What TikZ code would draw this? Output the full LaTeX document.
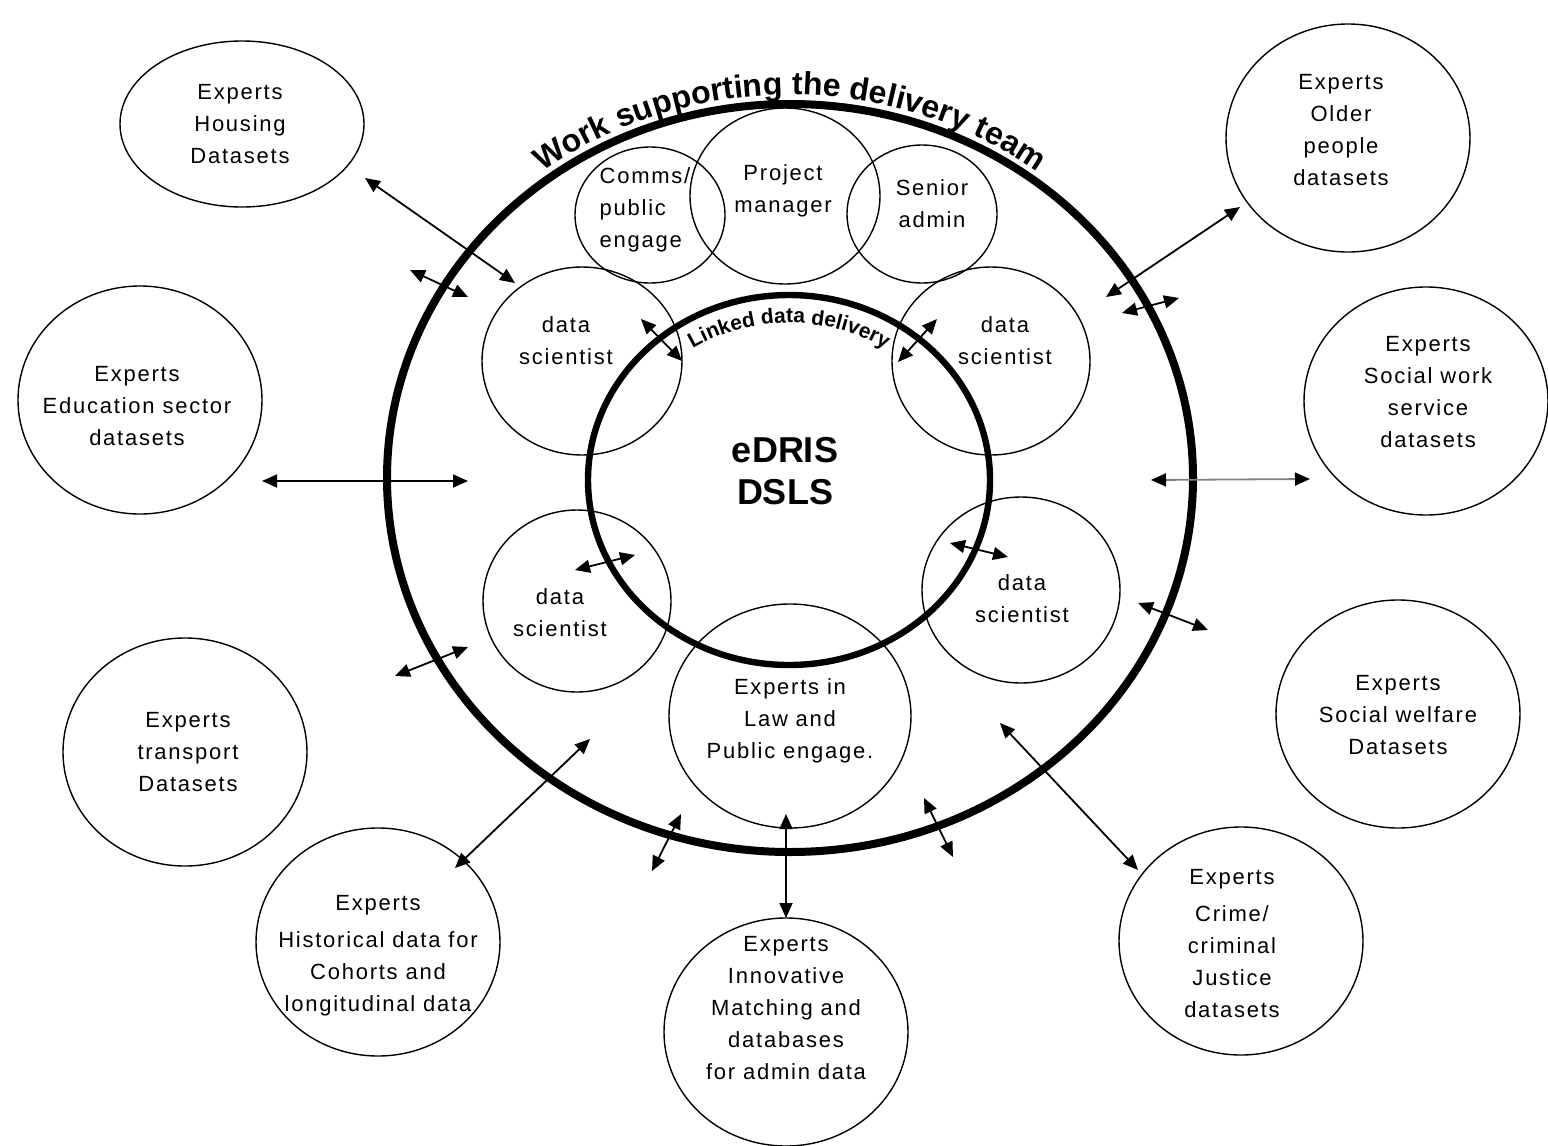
\documentclass[tikz,border=0pt]{standalone}
\usepackage{fontspec}
\setmainfont{Liberation Sans}
\newfontfamily\widefont[LetterSpace=8]{Liberation Sans}
\usetikzlibrary{shapes.geometric, arrows.meta, decorations.text, positioning}

\begin{document}
\begin{tikzpicture}[x=0.5pt, y=0.5pt,
  ring/.style={ellipse, draw, inner sep=0pt},
  expert/.style={ellipse, draw, line width=0.7pt, inner sep=0pt, minimum width=122pt, minimum height=114pt},
  member/.style={ellipse, draw, line width=0.7pt, inner sep=0pt},
  txt/.style={font=\widefont\fontsize{11}{16}\selectfont, align=center, inner sep=0pt},
  link/.style={line width=0.9pt, >={Triangle[length=7.5pt,width=6.5pt]}, <->}]

  \useasboundingbox (0,0) rectangle (1548,-1146);

  \node[expert, minimum height=83pt] (housing) at (242,-124) {};
  \node[expert] (education) at (140,-400) {};
  \node[expert] (transport) at (185,-752) {};
  \node[expert] (historical) at (378,-942) {};
  \node[expert] (innovative) at (786,-1032) {};
  \node[expert] (crime) at (1241,-941) {};
  \node[expert] (welfare) at (1398,-714) {};
  \node[expert] (socialwork) at (1426,-401) {};
  \node[expert] (older) at (1348,-138) {};

  \node[member, minimum width=75pt, minimum height=68pt] (comms) at (650,-215) {};
  \node[member, minimum width=95pt, minimum height=88pt] (pm) at (785,-196) {};
  \node[member, minimum width=75pt, minimum height=69pt] (senior) at (922,-214) {};
  \node[member, minimum width=100pt, minimum height=94pt] (scientistA) at (582,-361) {};
  \node[member, minimum width=99pt, minimum height=94pt] (scientistB) at (991,-361) {};
  \node[member, minimum width=94pt, minimum height=91pt] (scientistC) at (577,-601) {};
  \node[member, minimum width=99pt, minimum height=93pt] (scientistD) at (1021,-590) {};
  \node[member, minimum width=121pt, minimum height=112pt] (law) at (790,-716) {};

  \node[ring, line width=4pt, minimum width=403pt, minimum height=374pt] (team) at (790,-478) {};
  \node[ring, line width=3.2pt, minimum width=201pt, minimum height=185pt] (core) at (789,-480) {};

  \path[decorate, decoration={text along path, text align=center,
    text={|\bfseries\fontsize{16}{16}\selectfont|Work supporting the delivery team}}]
    (team.center) ++(160:412 and 383) arc[start angle=160, end angle=20, x radius=412, y radius=383];
  \path[decorate, decoration={text along path, text align=center,
    text={|\bfseries\fontsize{10.5}{10.5}\selectfont|Linked data delivery}}]
    (core.center) ++(150:176 and 157) arc[start angle=150, end angle=30, x radius=176, y radius=157];

  \node[txt] (housingtxt) at (240,-124) {Experts\\Housing\\Datasets};
  \node[txt] (educationtxt) at (137,-406) {Experts\\Education sector\\datasets};
  \node[txt] (transporttxt) at (188,-752) {Experts\\transport\\Datasets};
  \node[txt] (historicaltxt) at (378,-956) {Experts\\[2.5pt]Historical data for\\Cohorts and\\longitudinal data};
  \node[txt] (innovativetxt) at (786,-1008) {Experts\\Innovative\\Matching and\\databases\\for admin data};
  \node[txt] (crimetxt) at (1232,-944) {Experts\\[2.5pt]Crime/\\criminal\\Justice\\datasets};
  \node[txt] (welfaretxt) at (1398,-715) {Experts\\Social welfare\\Datasets};
  \node[txt] (socialworktxt) at (1428,-392) {Experts\\Social work\\service\\datasets};
  \node[txt] (oldertxt) at (1341,-130) {Experts\\Older\\people\\datasets};
  \node[txt, align=left] (commstxt) at (645,-210) {Comms/\\public\\engage};
  \node[txt] (pmtxt) at (783,-191) {Project\\manager};
  \node[txt] (seniortxt) at (932,-204) {Senior\\admin};
  \node[txt] (scientistAtxt) at (566,-341) {data\\scientist};
  \node[txt] (scientistBtxt) at (1005,-341) {data\\scientist};
  \node[txt] (scientistCtxt) at (560,-613) {data\\scientist};
  \node[txt] (scientistDtxt) at (1022,-599) {data\\scientist};
  \node[txt] (lawtxt) at (790,-721) {Experts in\\Law and\\Public engage.};
  \node[font=\bfseries\fontsize{18}{21}\selectfont, align=center, inner sep=0pt] (edris) at (785,-471) {eDRIS\\DSLS};

  \coordinate (h1) at (365,-178);  \coordinate (h2) at (515,-283);
  \coordinate (t1) at (410,-270);  \coordinate (t2) at (468,-297);
  \coordinate (e1) at (262,-481);  \coordinate (e2) at (468,-481);
  \coordinate (t3) at (395,-676);  \coordinate (t4) at (468,-647);
  \coordinate (c1) at (455,-868);  \coordinate (c2) at (590,-739);
  \coordinate (t5) at (652,-871);  \coordinate (t6) at (681,-814);
  \coordinate (m1) at (786,-814);  \coordinate (m2) at (786,-918);
  \coordinate (t7) at (924,-798);  \coordinate (t8) at (953,-857);
  \coordinate (j1) at (1000,-723); \coordinate (j2) at (1138,-870);
  \coordinate (t9) at (1138,-603); \coordinate (t10) at (1208,-630);
  \coordinate (s1) at (1151,-480); \coordinate (s2) at (1310,-479);
  \coordinate (t11) at (1122,-313); \coordinate (t12) at (1179,-298);
  \coordinate (o1) at (1106,-297); \coordinate (o2) at (1240,-207);
  \coordinate (d1) at (641,-319);  \coordinate (d2) at (682,-361);
  \coordinate (d3) at (937,-319);  \coordinate (d4) at (898,-362);
  \coordinate (d5) at (575,-570);  \coordinate (d6) at (635,-555);
  \coordinate (d7) at (950,-543);  \coordinate (d8) at (1008,-557);

  \draw[link] (h1) -- (h2);
  \draw[link] (t1) -- (t2);
  \draw[link] (e1) -- (e2);
  \draw[link] (t3) -- (t4);
  \draw[link] (c1) -- (c2);
  \draw[link] (t5) -- (t6);
  \draw[link] (m1) -- (m2);
  \draw[link] (t7) -- (t8);
  \draw[link] (j1) -- (j2);
  \draw[link] (t9) -- (t10);
  \draw[link, draw=gray, >={Triangle[length=7.5pt,width=6.5pt,color=black]}] (s1) -- (s2);
  \draw[link] (t11) -- (t12);
  \draw[link] (o1) -- (o2);
  \draw[link] (d1) -- (d2);
  \draw[link] (d3) -- (d4);
  \draw[link] (d5) -- (d6);
  \draw[link] (d7) -- (d8);
\end{tikzpicture}
\end{document}
